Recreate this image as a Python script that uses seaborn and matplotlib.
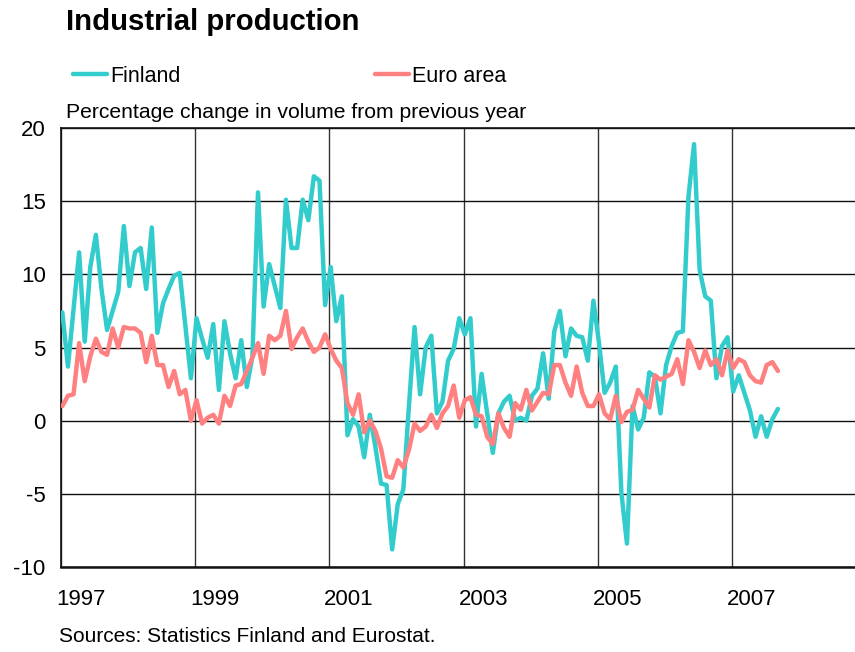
import pandas as pd
import seaborn as sns
import matplotlib.pyplot as plt
import matplotlib.transforms as mtransforms
import numpy as np

# ======================================
# DADOS (mensais, jan/1997 - set/2007)
# ======================================

start_year = 1997
n_months = 129

finland = [
    7.4, 3.7, 7.6, 11.5, 5.4, 10.5, 12.7, 9.0, 6.2, 7.5, 8.8, 13.3,
    9.2, 11.5, 11.8, 9.0, 13.2, 6.0, 8.0, 9.0, 9.9, 10.1, 6.5, 2.9,
    7.0, 5.6, 4.3, 6.6, 2.1, 6.8, 4.6, 2.9, 5.5, 2.3, 4.4, 15.6,
    7.8, 10.7, 9.2, 7.7, 15.1, 11.8, 11.8, 15.1, 13.7, 16.7, 16.4, 7.9,
    10.5, 6.8, 8.5, -1.0, 0.1, -0.4, -2.5, 0.4, -1.8, -4.3, -4.4, -8.8,
    -5.7, -4.7, 1.0, 6.4, 1.8, 5.0, 5.8, 0.5, 1.3, 4.1, 4.9, 7.0,
    5.9, 7.0, -0.4, 3.2, 0.5, -2.2, 0.5, 1.3, 1.7, 0.0, 0.2, 0.0,
    1.7, 2.2, 4.6, 1.5, 6.1, 7.5, 4.4, 6.3, 5.8, 5.7, 4.1, 8.2,
    5.3, 1.9, 2.6, 3.7, -4.9, -8.4, 1.0, -0.6, 0.2, 3.3, 3.0, 0.5,
    3.8, 5.1, 6.0, 6.1, 15.3, 18.9, 10.3, 8.5, 8.2, 2.9, 5.1, 5.7,
    2.0, 3.1, 1.9, 0.7, -1.1, 0.3, -1.1, 0.1, 0.8,
]

euro_area = [
    1.0, 1.7, 1.8, 5.3, 2.7, 4.4, 5.6, 4.7, 4.5, 6.3, 5.0, 6.4,
    6.3, 6.3, 6.0, 4.0, 5.8, 3.8, 3.8, 2.3, 3.4, 1.8, 2.1, 0.0,
    1.4, -0.2, 0.2, 0.4, -0.2, 1.7, 1.0, 2.4, 2.5, 3.4, 4.3, 5.3,
    3.2, 5.8, 5.5, 5.8, 7.5, 4.9, 5.7, 6.3, 5.4, 4.7, 5.0, 5.9,
    4.9, 4.1, 3.6, 1.2, 0.4, 1.8, -0.8, 0.0, -0.7, -1.9, -3.8, -3.9,
    -2.7, -3.2, -2.0, -0.2, -0.7, -0.4, 0.4, -0.5, 0.5, 1.0, 2.4, 0.2,
    1.4, 1.6, 0.4, 0.3, -1.1, -1.6, 0.5, -0.5, -1.1, 1.2, 0.75, 2.1,
    0.7, 1.3, 1.9, 1.8, 3.8, 3.8, 2.6, 1.7, 3.7, 1.9, 1.0, 1.0,
    1.8, 0.5, 0.1, 1.7, -0.1, 0.6, 0.75, 2.1, 1.5, 0.9, 3.1, 2.8,
    3.0, 3.2, 4.2, 2.5, 5.5, 4.7, 3.6, 4.8, 3.8, 4.2, 3.1, 4.8,
    3.6, 4.2, 4.0, 3.1, 2.7, 2.6, 3.8, 4.0, 3.4,
]

series_names = ['Finland', 'Euro area']
cores = {'Finland': '#33CCCC', 'Euro area': '#FF8080'}

year_ticks = [1997, 1999, 2001, 2003, 2005, 2007]
minor_ticks = [1998, 2000, 2002, 2004, 2006, 2008]
y_ticks = [-10, -5, 0, 5, 10, 15, 20]

# ======================================
# MONTAR DATAFRAME
# ======================================

datas = pd.date_range(f'{start_year}-01-01', periods=n_months, freq='MS')
tempo = datas.year + (datas.month - 1) / 12 + 0.02

df = pd.concat([
    pd.DataFrame({'Tempo': tempo, 'Valor': finland, 'Serie': 'Finland'}),
    pd.DataFrame({'Tempo': tempo, 'Valor': euro_area, 'Serie': 'Euro area'}),
])

# ======================================
# GRÁFICO
# ======================================

sns.set_style('white')
plt.rcParams['font.family'] = ['Liberation Sans', 'DejaVu Sans']
plt.rcParams['text.color'] = 'black'
plt.rcParams['xtick.color'] = 'black'
plt.rcParams['ytick.color'] = 'black'

fig = plt.figure(figsize=(8.55, 6.52), dpi=100)
ax = fig.add_axes([61 / 855, 85 / 652, 805 / 855, 439 / 652])

sns.lineplot(data=df, x='Tempo', y='Valor', hue='Serie', hue_order=series_names,
             palette=cores, linewidth=3.2, ax=ax, legend=True, zorder=3)

ax.set_xlim(1997, 2009)
ax.set_ylim(-10, 20)
ax.set_xlabel('')
ax.set_ylabel('')

ax.set_xticks(year_ticks)
ax.set_xticks(minor_ticks, minor=True)
ax.set_yticks(y_ticks)
ax.set_xticklabels([str(a) for a in year_ticks], fontsize=16, ha='left')
ax.set_yticklabels([str(v) for v in y_ticks], fontsize=16)

ax.tick_params(axis='x', which='major', length=0, pad=16)
ax.tick_params(axis='x', which='minor', direction='in', length=5, width=1, color='#333333')
ax.tick_params(axis='y', length=0, pad=11)

deslocamento = mtransforms.ScaledTranslation(-5 / 100, 0, fig.dpi_scale_trans)
for rotulo in ax.get_xticklabels():
    rotulo.set_transform(rotulo.get_transform() + deslocamento)

ax.grid(True, which='major', axis='y', color='#111111', linewidth=1)
ax.grid(True, which='major', axis='x', color='#333333', linewidth=1)
ax.set_axisbelow(True)

for lado in ['top', 'left', 'bottom', 'right']:
    ax.spines[lado].set_color('#111111')
    ax.spines[lado].set_linewidth(1.2)
ax.spines['bottom'].set_linewidth(1.8)

# Legenda no topo
handles, labels = ax.get_legend_handles_labels()
ax.legend(handles, labels, loc='center left', bbox_to_anchor=(73 / 855, 1 - 76 / 652),
          bbox_transform=fig.transFigure, ncol=2, frameon=False, fontsize=15.5,
          handlelength=1.6, handletextpad=0.15, columnspacing=9.0,
          borderpad=0, borderaxespad=0)

fig.text(66 / 855, 1 - 22 / 652, 'Industrial production', fontsize=21.2,
         fontweight='bold', va='center', ha='left')
fig.text(66 / 855, 1 - 112 / 652, 'Percentage change in volume from previous year',
         fontsize=15.2, va='center', ha='left')
fig.text(59 / 855, 1 - 637 / 652, 'Sources: Statistics Finland and Eurostat.',
         fontsize=15, va='center', ha='left')

plt.savefig('out.png', dpi=100)
